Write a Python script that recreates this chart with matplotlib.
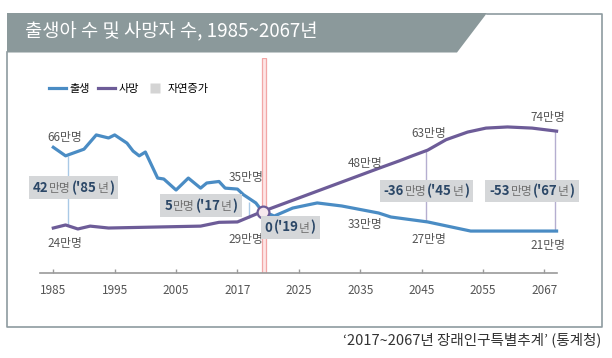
import matplotlib
matplotlib.use("Agg")
import matplotlib.pyplot as plt
from matplotlib.patches import Polygon
from matplotlib.lines import Line2D
from matplotlib.offsetbox import TextArea, HPacker, AnnotationBbox

plt.rcParams["font.family"] = ["Noto Sans CJK KR", "DejaVu Sans"]

# 데이터 (만명, 그림에서 읽은 값)
birth_years = [1985, 1987, 1990, 1992, 1994, 1995, 1997, 1998, 1999, 2000,
               2002, 2003, 2005, 2007, 2009, 2010, 2012, 2013, 2015, 2016,
               2018, 2019, 2021, 2024, 2028, 2032, 2038, 2040, 2046, 2053, 2067]
births = [66.5, 62, 65.5, 73, 71.4, 73, 68.7, 64.5, 62, 64,
          50.3, 49.8, 44, 50.3, 45, 47.7, 48.5, 45, 44.5, 41.5,
          37.2, 33, 30.3, 34.5, 37.2, 35.6, 31.9, 29.8, 27.2, 22.4, 22.4]

death_years = [1985, 1987, 1989, 1991, 1994, 2009, 2012, 2015, 2019, 2025,
               2038, 2041.5, 2043.5, 2046, 2049, 2052.5, 2055.5, 2059, 2063, 2067]
deaths = [24, 25.6, 23.5, 25, 24, 25, 27, 27.2, 32.6, 39.8,
          55.4, 59.5, 62, 65, 70.5, 74.5, 76.6, 77.2, 76.6, 75]

tick_pos = [1985, 1995, 2005, 2015, 2025, 2035, 2045, 2055, 2065]
tick_labels = ["1985", "1995", "2005", "2017", "2025", "2035", "2045", "2055", "2067"]

# 격차 표시 (연도, 출생, 사망)
gap_years = [1987.4, 2016.9, 2045.8, 2066.7]
gap_birth = [62, 37.5, 27.2, 22.4]
gap_death = [25.6, 29.5, 64.5, 75]
gap_colors = ["#a9c9e6", "#a9c9e6", "#b5aed0", "#b5aed0"]

cross_year, cross_value = 2019.2, 32.6

value_texts = ["66만명", "24만명", "35만명", "29만명", "48만명", "33만명",
               "63만명", "27만명", "74만명", "21만명"]
value_x = [1984.1, 1984.1, 2013.6, 2013.6, 2032.9, 2032.9, 2043.3, 2043.3, 2062.7, 2062.7]
value_y = [71.9, 16.1, 50.8, 17.7, 58.2, 25.6, 73.5, 17.7, 82.4, 15.0]

gap_labels = [
    [("42", True), ("만명", False), ("('85", True), ("년", False), (")", True)],
    [("5", True), ("만명", False), ("('17", True), ("년", False), (")", True)],
    [("0", True), ("('19", True), ("년", False), (")", True)],
    [("-36", True), ("만명", False), ("('45", True), ("년", False), (")", True)],
    [("-53", True), ("만명", False), ("('67", True), ("년", False), (")", True)],
]
gap_label_x = [1988.3, 2009.1, 2023.6, 2045.8, 2063.0]
gap_label_y = [45.3, 35.8, 24.3, 43.5, 43.5]

BLUE = "#4a8cc4"
PURPLE = "#6d5c98"
NAVY = "#2b4767"
W, H = 612, 358


def fx(px):
    return px / W


def fy(py):
    return 1 - py / H


fig = plt.figure(figsize=(6.12, 3.58), dpi=100)

# 제목 띠와 테두리
banner = Polygon([(fx(7), fy(13)), (fx(487), fy(13)), (fx(457), fy(52.5)), (fx(7), fy(52.5))],
                 closed=True, transform=fig.transFigure, fc="#8b999b", ec="none")
fig.add_artist(banner)
fig.add_artist(Line2D([fx(487), fx(602), fx(602), fx(7), fx(7)],
                      [fy(13.5), fy(13.5), fy(327), fy(327), fy(52)],
                      transform=fig.transFigure, color="#8e9ba0", lw=1.2))
fig.text(fx(25), fy(32), "출생아 수 및 사망자 수, 1985~2067년", color="white",
         fontsize=13.5, va="center", ha="left")
fig.text(fx(601), fy(340), "‘2017~2067년 장래인구특별추계’ (통계청)", color="#333333",
         fontsize=10.5, va="center", ha="right")

ax = fig.add_axes([fx(40), fy(273), (557 - 40) / W, (273 - 58) / H])
x0 = 1985 - (53.3 - 40) / 6.1375
ax.set_xlim(x0, x0 + 517 / 6.1375)
ax.set_ylim(0.32, 113.5)
ax.patch.set_alpha(0)

ax.axvspan(2018.95, 2019.65, fc="#fde6e6", ec="#f2a6a6", lw=0.9, zorder=1)

ax.vlines(gap_years, gap_birth, gap_death, colors=gap_colors, lw=1.0, zorder=2)

ax.plot(birth_years, births, color=BLUE, lw=2.3, zorder=3, clip_on=False,
        solid_joinstyle="round")
ax.plot(death_years, deaths, color=PURPLE, lw=2.3, zorder=3, clip_on=False,
        solid_joinstyle="round")
ax.plot(cross_year, cross_value, "o", ms=8.5, mfc="#f6e8ee", mec=PURPLE, mew=1.6, zorder=5)

for s, x, y in zip(value_texts, value_x, value_y):
    ax.text(x, y, s, fontsize=8.5, color="#555555", ha="left", va="center", zorder=4)

for parts, x, y in zip(gap_labels, gap_label_x, gap_label_y):
    areas = []
    for s, strong in parts:
        if strong:
            props = dict(fontsize=9.5, fontweight="bold", color=NAVY)
        else:
            props = dict(fontsize=8.5, color="#707070")
        areas.append(TextArea(s, textprops=props))
    pack = HPacker(children=areas, align="baseline", pad=0, sep=0.5)
    ab = AnnotationBbox(pack, (x, y), xycoords="data", frameon=True, pad=0.2,
                        bboxprops=dict(fc="#d5d7d9", ec="none", boxstyle="square"),
                        zorder=6, annotation_clip=False)
    ax.add_artist(ab)

for side in ["top", "left", "right"]:
    ax.spines[side].set_visible(False)
ax.spines["bottom"].set_color("#9a9a9a")
ax.spines["bottom"].set_linewidth(1.2)
ax.set_yticks([])
ax.set_xticks(tick_pos)
ax.set_xticklabels(tick_labels)
ax.tick_params(axis="x", direction="in", length=3, color="#9a9a9a", width=1,
               labelsize=8.5, labelcolor="#555555", pad=8)

handles = [Line2D([], [], color=BLUE, lw=2.3),
           Line2D([], [], color=PURPLE, lw=2.3),
           Line2D([], [], marker="s", ls="none", ms=7, mfc="#d4d4d4", mec="none")]
fig.legend(handles, ["출생", "사망", "자연증가"], loc="center left",
           bbox_to_anchor=(fx(49), fy(89)), ncol=3, frameon=False, fontsize=8,
           handlelength=1.5, handletextpad=0.35, columnspacing=0.7,
           borderpad=0, borderaxespad=0)

fig.savefig("out.png", dpi=100)
